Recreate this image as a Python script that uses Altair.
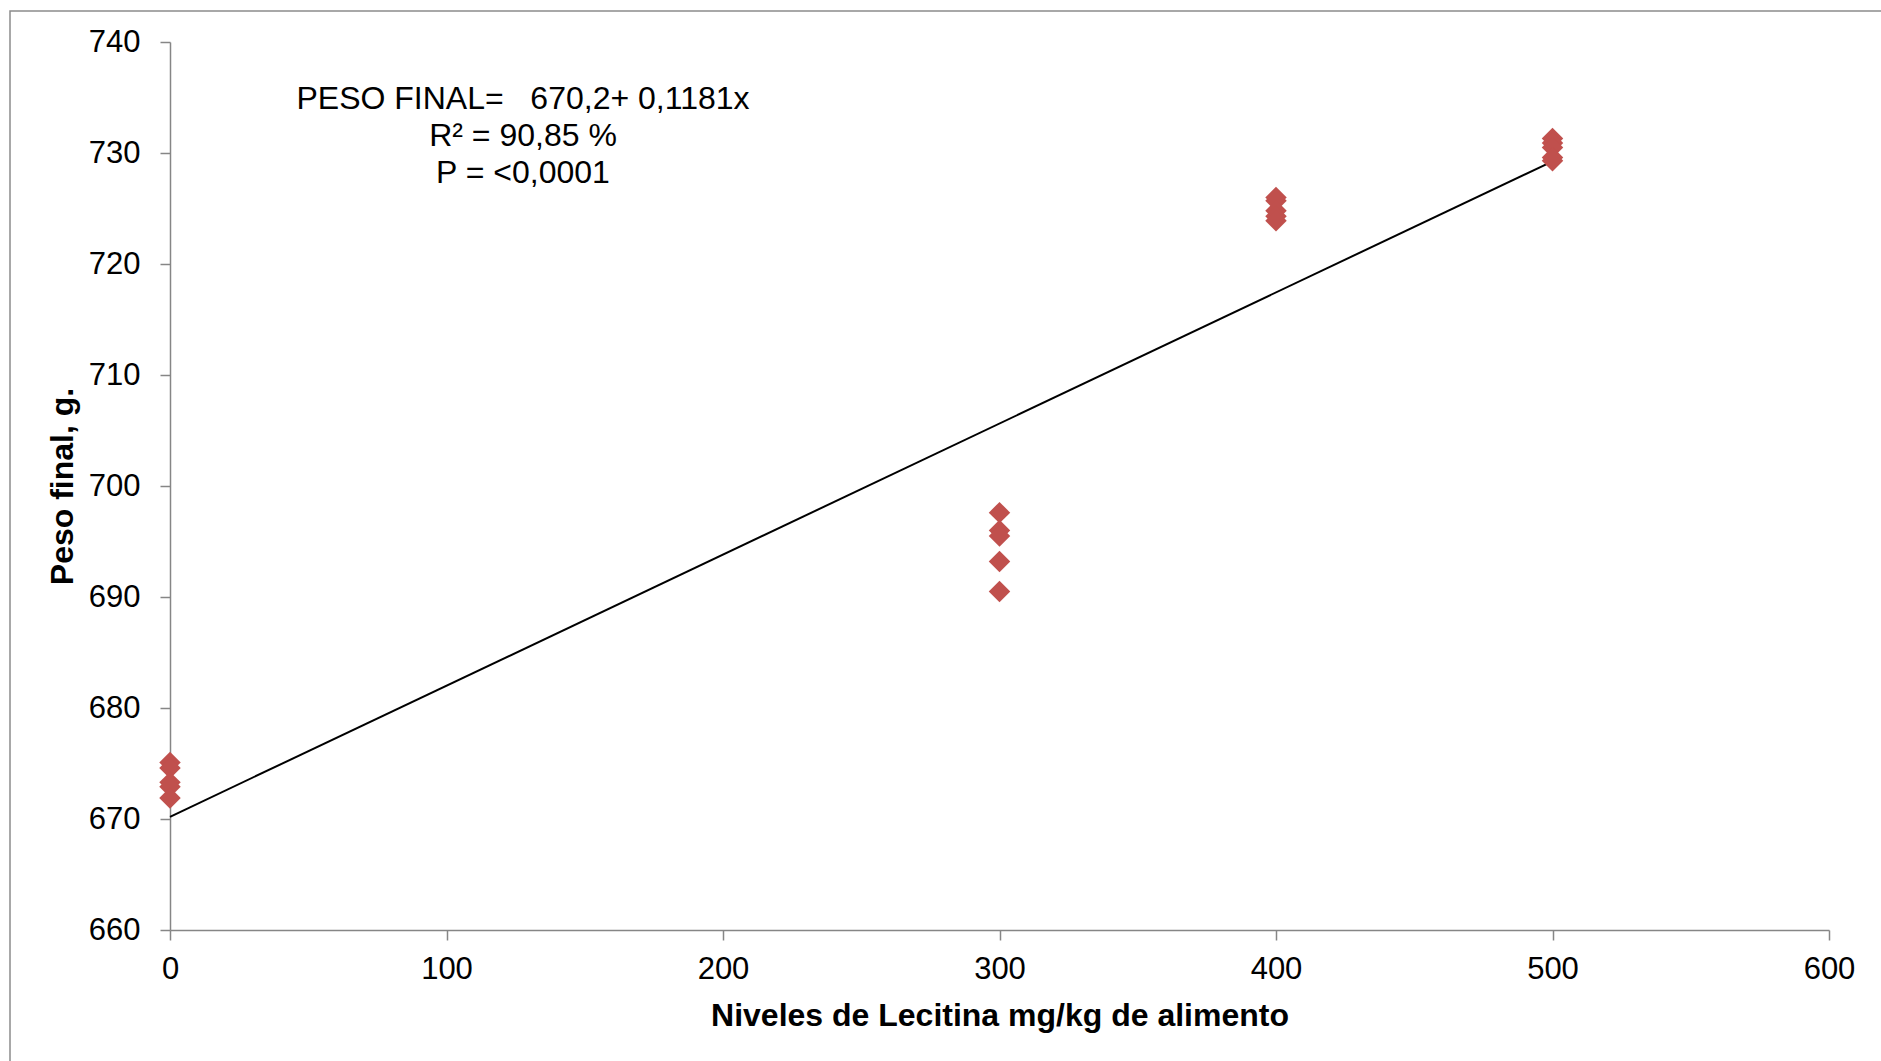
import altair as alt
import pandas as pd

# ---- data ----
niveles = [0, 0, 0, 0, 0,
           300, 300, 300, 300, 300,
           400, 400, 400, 400, 400,
           500, 500, 500, 500, 500]
peso = [675.1, 674.6, 673.3, 672.9, 671.9,
        697.6, 696.0, 695.5, 693.2, 690.5,
        726.0, 725.7, 724.8, 724.3, 723.9,
        731.3, 730.9, 730.5, 729.6, 729.3]
trend_x = [0, 500]
trend_y = [670.2, 729.25]   # 670,2 + 0,1181x
annot = ["PESO FINAL=\u00a0\u00a0\u00a0670,2+ 0,1181x", "R² = 90,85 %", "P = <0,0001"]
x_ticks = [0, 100, 200, 300, 400, 500, 600]
y_ticks = [660, 670, 680, 690, 700, 710, 720, 730, 740]

W, H = 1659, 888
FONT = "Liberation Sans"

pts = pd.DataFrame({"x": niveles, "y": peso})
trend = pd.DataFrame({"x": trend_x, "y": trend_y})
txt = pd.DataFrame({"t": ["\n".join(annot)]})

xs = alt.Scale(domain=[0, 600], nice=False, zero=False)
ys = alt.Scale(domain=[660, 740], nice=False, zero=False)

x_axis = alt.Axis(title="Niveles de Lecitina mg/kg de alimento", values=x_ticks,
                  grid=False, labelPadding=14, titlePadding=16, labelFlush=False)
y_axis = alt.Axis(title="Peso final, g.", values=y_ticks, grid=False,
                  labelPadding=20, titlePadding=9)

frame = alt.Chart(alt.Data(values=[{}])).mark_rect(
    fill=None, stroke="#8c8c8c", strokeWidth=1.5, clip=False
).encode(x=alt.value(10 - 170), y=alt.value(11 - 42),
         x2=alt.value(1881 - 170 + 20), y2=alt.value(1061 - 42 + 20))

line = alt.Chart(trend).mark_line(color="black", strokeWidth=2).encode(
    x=alt.X("x:Q", scale=xs, axis=x_axis),
    y=alt.Y("y:Q", scale=ys, axis=y_axis),
)

points = alt.Chart(pts).mark_point(
    shape="diamond", filled=True, size=460, color="#C0504D", opacity=1
).encode(
    x=alt.X("x:Q", scale=xs),
    y=alt.Y("y:Q", scale=ys),
)

text = alt.Chart(txt).mark_text(
    font=FONT, fontSize=32, color="black", align="center", baseline="top",
    lineBreak="\n", lineHeight=37
).encode(x=alt.value(353), y=alt.value(42), text="t:N")

chart = alt.layer(frame, line, points, text).properties(
    width=W, height=H,
    background="white",
    autosize=alt.AutoSizeParams(type="none"),
    padding={"left": 170, "top": 42, "right": 52, "bottom": 131},
).configure_axis(
    labelFont=FONT, titleFont=FONT, labelFontSize=31, titleFontSize=32,
    titleFontWeight="bold", labelColor="black", titleColor="black",
    domainColor="#868686", tickColor="#868686", domainWidth=1.5, tickWidth=1.5,
    tickSize=10,
).configure_view(stroke=None)

chart.save("out.html", embed_options={"renderer": "svg", "actions": False})
